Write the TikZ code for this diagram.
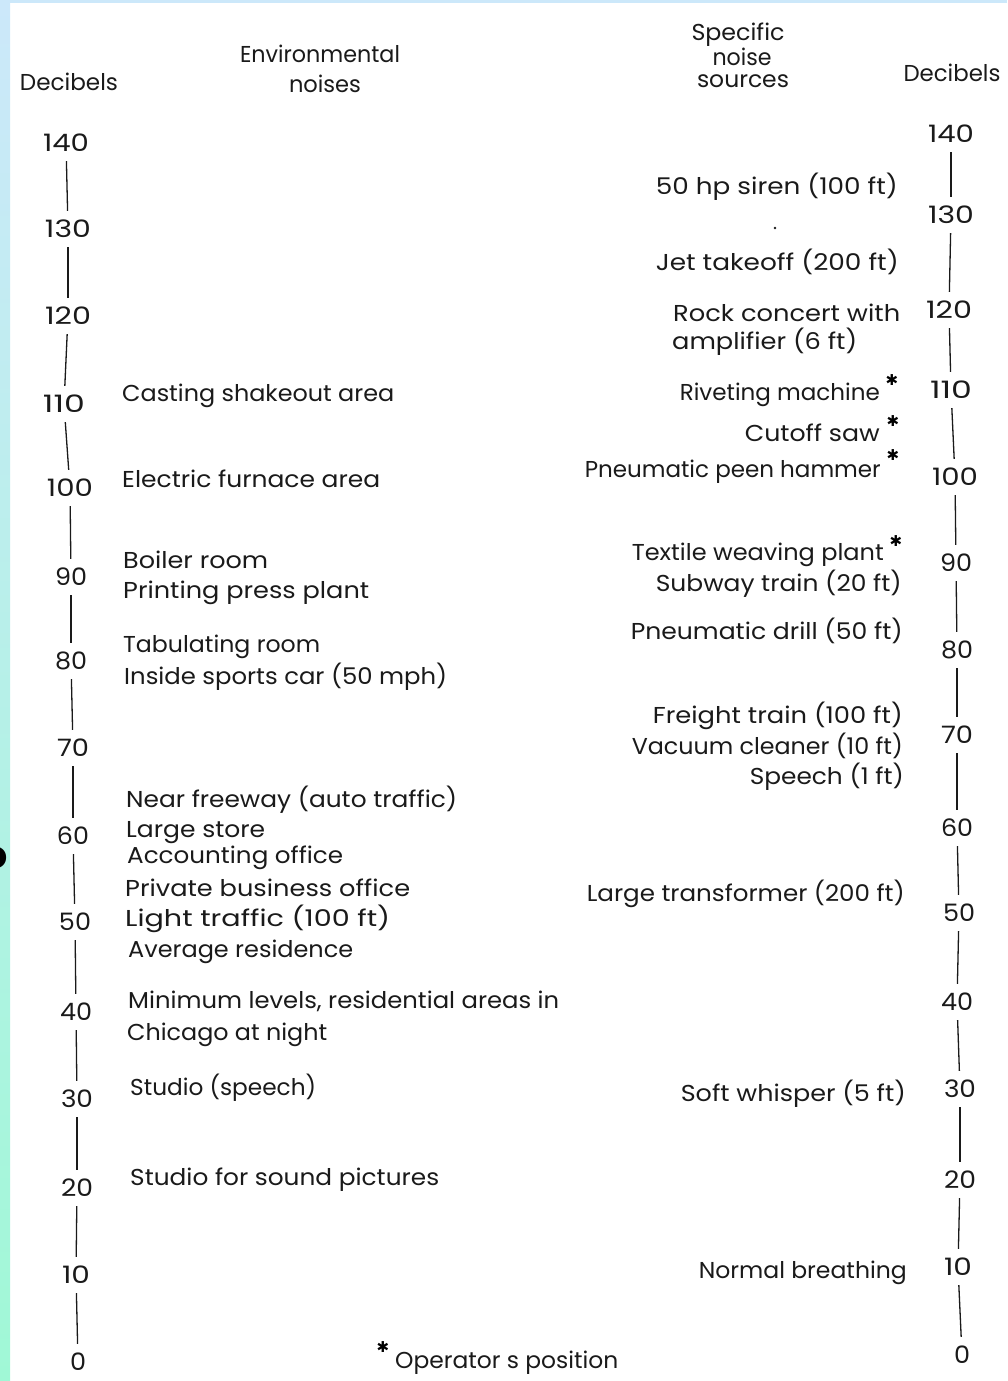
\documentclass[tikz,border=0pt]{standalone}
\usepackage{fontspec}
\usepackage{graphicx}
\setmainfont{Poppins}
\newfontfamily\symfont{DejaVu Sans}
\newcommand\tw[2]{\resizebox{#1pt}{\height}{#2}}
\newcommand\labfont{\fontsize{23}{26}\selectfont}
\definecolor{ink}{HTML}{1A1A1A}
\definecolor{edgeblue}{HTML}{CCE8FA}
\definecolor{edgemint}{HTML}{A0F8D6}
\tikzset{
  lab/.style={inner sep=0pt, text height=16pt, text depth=0pt, font=\labfont, text=ink},
  lw/.style={lab, anchor=west},
  le/.style={lab, anchor=east},
  num/.style={lab, anchor=center},
  dig/.style={lab, anchor=center, font=\fontsize{24}{26}\selectfont},
  scaleline/.style={draw=ink, line width=1.3pt, shorten <=10pt, shorten >=10pt},
  staro/.style={inner sep=0pt, font=\symfont\fontsize{15}{15}\selectfont, text=black}
}
\begin{document}
\begin{tikzpicture}[x=1pt,y=-1pt]
\useasboundingbox (0,0) rectangle (1007,1381);
\fill[white] (0,0) rectangle (1007,1381);
\shade[top color=edgeblue, bottom color=edgemint] (0,0) rectangle (10,1381);
\fill[edgeblue] (0,0) rectangle (1007,3);
\node[inner sep=0pt, anchor=east, font=\fontsize{38}{38}\selectfont\bfseries] (frag) at (8,858) {o};

% headers
\node[num] (hdl) at (69,82) {\tw{98}{Decibels}};
\node[num] (env1) at (320,55) {\tw{160}{Environmental}};
\node[num] (env2) at (325,84) {\tw{72}{noises}};
\node[num] (sp1) at (738,33) {\tw{93}{Specific}};
\node[num] (sp2) at (742,57) {\tw{59}{noise}};
\node[num] (sp3) at (743,80) {\tw{92}{sources}};
\node[num] (hdr) at (952,73) {\tw{97}{Decibels}};

% left scale
\node[dig] (L140) at (66,143) {\tw{46}{140}};
\node[dig] (L130) at (68,229) {\tw{46}{130}};
\node[dig] (L120) at (68,316) {\tw{46}{120}};
\node[dig] (L110) at (64,404) {\tw{42}{110}};
\node[dig] (L100) at (70,488) {\tw{46}{100}};
\node[dig] (L90) at (71,577) {\tw{32}{90}};
\node[dig] (L80) at (71,661) {\tw{32}{80}};
\node[dig] (L70) at (73,748) {\tw{32}{70}};
\node[dig] (L60) at (73,836) {\tw{32}{60}};
\node[dig] (L50) at (75,922) {\tw{32}{50}};
\node[dig] (L40) at (76,1012) {\tw{32}{40}};
\node[dig] (L30) at (77,1099) {\tw{32}{30}};
\node[dig] (L20) at (77,1188) {\tw{32}{20}};
\node[dig] (L10) at (76,1275) {\tw{28}{10}};
\node[dig] (L0) at (78,1362) {\tw{16}{0}};
\foreach \a/\b in {140/130,130/120,120/110,110/100,100/90,90/80,80/70,70/60,60/50,50/40,40/30,30/20,20/10,10/0}
  \draw[scaleline] (L\a) -- (L\b);

% right scale
\node[dig] (R140) at (951,134) {\tw{46}{140}};
\node[dig] (R130) at (951,215) {\tw{46}{130}};
\node[dig] (R120) at (949,310) {\tw{46}{120}};
\node[dig] (R110) at (951,390) {\tw{42}{110}};
\node[dig] (R100) at (955,477) {\tw{46}{100}};
\node[dig] (R90) at (956,563) {\tw{32}{90}};
\node[dig] (R80) at (957,650) {\tw{32}{80}};
\node[dig] (R70) at (957,735) {\tw{32}{70}};
\node[dig] (R60) at (957,828) {\tw{32}{60}};
\node[dig] (R50) at (959,913) {\tw{32}{50}};
\node[dig] (R40) at (957,1002) {\tw{32}{40}};
\node[dig] (R30) at (960,1089) {\tw{32}{30}};
\node[dig] (R20) at (960,1180) {\tw{32}{20}};
\node[dig] (R10) at (958,1267) {\tw{28}{10}};
\node[dig] (R0) at (962,1355) {\tw{16}{0}};
\foreach \a/\b in {140/130,130/120,120/110,110/100,100/90,90/80,80/70,70/60,60/50,50/40,40/30,30/20,20/10,10/0}
  \draw[scaleline] (R\a) -- (R\b);

% environmental noises
\node[lw] (e1) at (122,393) {\tw{272}{Casting shakeout area}};
\node[lw] (e2) at (122,479) {\tw{258}{Electric furnace area}};
\node[lw] (e3) at (123,560) {\tw{145}{Boiler room}};
\node[lw] (e4) at (123,590) {\tw{246}{Printing press plant}};
\node[lw] (e5) at (123,644) {\tw{197}{Tabulating room}};
\node[lw] (e6) at (124,676) {\tw{323}{Inside sports car (50 mph)}};
\node[lw] (e7) at (126,799) {\tw{331}{Near freeway (auto traffic)}};
\node[lw] (e8) at (126,829) {\tw{139}{Large store}};
\node[lw] (e9) at (127,855) {\tw{216}{Accounting office}};
\node[lw] (e10) at (125,888) {\tw{285}{Private business office}};
\node[lw] (e11) at (125,918) {\tw{265}{Light traffic (100 ft)}};
\node[lw] (e12) at (128,949) {\tw{225}{Average residence}};
\node[lw] (e13) at (128,1000) {\tw{431}{Minimum levels, residential areas in}};
\node[lw] (e14) at (127,1032) {\tw{200}{Chicago at night}};
\node[lw] (e15) at (130,1087) {\tw{186}{Studio (speech)}};
\node[lw] (e16) at (130,1177) {\tw{309}{Studio for sound pictures}};

% specific noise sources
\node[le] (s1) at (898,186) {\tw{242}{50 hp siren (100 ft)}};
\fill[ink] (775,228) circle (1.4);
\node[le] (s2) at (899,262) {\tw{243}{Jet takeoff (200 ft)}};
\node[lw] (s3) at (673,313) {\tw{227}{Rock concert with}};
\node[lw] (s4) at (672,341) {\tw{185}{amplifier (6 ft)}};
\node[le] (s5) at (880,392) {\tw{200}{Riveting machine}};
\node[staro, anchor=center] (st5) at (892,380) {✱};
\node[le] (s6) at (880,433) {\tw{135}{Cutoff saw}};
\node[staro, anchor=center] (st6) at (893,421) {✱};
\node[le] (s7) at (881,469) {\tw{296}{Pneumatic peen hammer}};
\node[staro, anchor=center] (st7) at (893,455) {✱};
\node[le] (s8) at (884,552) {\tw{252}{Textile weaving plant}};
\node[staro, anchor=center] (st8) at (896,541) {✱};
\node[le] (s9) at (902,583) {\tw{246}{Subway train (20 ft)}};
\node[le] (s10) at (903,631) {\tw{272}{Pneumatic drill (50 ft)}};
\node[le] (s11) at (903,715) {\tw{250}{Freight train (100 ft)}};
\node[le] (s12) at (903,746) {\tw{271}{Vacuum cleaner (10 ft)}};
\node[le] (s13) at (904,776) {\tw{154}{Speech (1 ft)}};
\node[le] (s14) at (905,893) {\tw{318}{Large transformer (200 ft)}};
\node[le] (s15) at (906,1093) {\tw{225}{Soft whisper (5 ft)}};
\node[le] (s16) at (907,1270) {\tw{208}{Normal breathing}};

% footnote
\node[staro, anchor=center] (fst) at (383,1347) {✱};
\node[lw] (foot) at (395,1360) {\tw{223}{Operator s position}};
\end{tikzpicture}
\end{document}
